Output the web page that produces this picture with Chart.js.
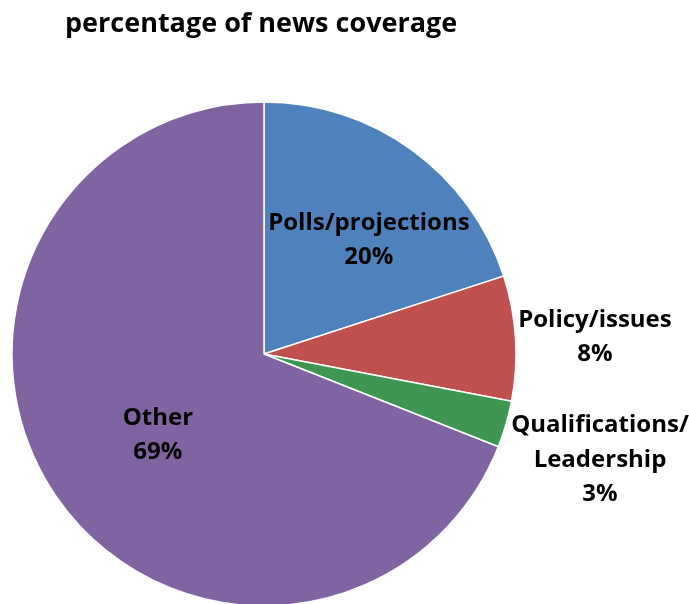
<!DOCTYPE html>
<html>
<head>
<meta charset="utf-8">
<script src="https://cdn.jsdelivr.net/npm/chart.js@4/dist/chart.umd.min.js"></script>
<style>
  html, body { margin: 0; padding: 0; background: #fff; }
  #wrap { width: 689px; height: 604px; }
</style>
</head>
<body>
<div id="wrap"><canvas id="pie"></canvas></div>
<script>
// Chart data
const categories = ['Polls/projections', 'Policy/issues', 'Qualifications/\nLeadership', 'Other'];
const shares = [20, 8, 3, 69];
const sliceColors = ['#4f81bd', '#c0504d', '#3e9651', '#8064a2'];

// label placement relative to each slice: radius factor + angle nudge (deg)
const labelPlacement = [
  { r: 0.615, a: 6.6 },
  { r: 1.315, a: 0.7 },
  { r: 1.398, a: 1.3 },
  { r: 0.53, a: -3.2 }
];

const FONT = '"Open Sans", "DejaVu Sans", sans-serif';

// draws the category + percent labels at positions taken from the arc elements
const sliceLabels = {
  id: 'sliceLabels',
  afterDatasetsDraw(chart) {
    const ctx = chart.ctx;
    const meta = chart.getDatasetMeta(0);
    const total = shares.reduce((a, b) => a + b, 0);
    ctx.save();
    ctx.fillStyle = '#000';
    ctx.font = 'bold 24px ' + FONT;
    ctx.textAlign = 'center';
    ctx.textBaseline = 'middle';
    meta.data.forEach((arc, i) => {
      const p = arc.getProps(['x', 'y', 'startAngle', 'endAngle', 'outerRadius'], true);
      const mid = (p.startAngle + p.endAngle) / 2 + labelPlacement[i].a * Math.PI / 180;
      const rr = p.outerRadius * labelPlacement[i].r;
      const cx = p.x + Math.cos(mid) * rr;
      const cy = p.y + Math.sin(mid) * rr;
      const lines = categories[i].split('\n');
      lines.push(Math.round(shares[i] / total * 100) + '%');
      const lh = 34.5;
      const top = cy - (lines.length - 1) * lh / 2;
      lines.forEach((t, k) => ctx.fillText(t, cx, top + k * lh));
    });
    ctx.restore();
  }
};

new Chart(document.getElementById('pie'), {
  type: 'pie',
  data: {
    labels: categories,
    datasets: [{
      data: shares,
      backgroundColor: sliceColors,
      borderColor: '#ffffff',
      borderWidth: 1.5
    }]
  },
  options: {
    responsive: true,
    maintainAspectRatio: false,
    animation: false,
    radius: 252,
    layout: { padding: { left: 65, right: 226, top: 0, bottom: 0 } },
    plugins: {
      legend: { display: false },
      tooltip: { enabled: false },
      title: {
        display: true,
        text: 'percentage of news coverage',
        align: 'start',
        color: '#000',
        font: { family: FONT, size: 27, weight: 'bold', lineHeight: 1.2 },
        padding: { top: 8, bottom: 63.6 }
      }
    }
  },
  plugins: [sliceLabels]
});
</script>
</body>
</html>
